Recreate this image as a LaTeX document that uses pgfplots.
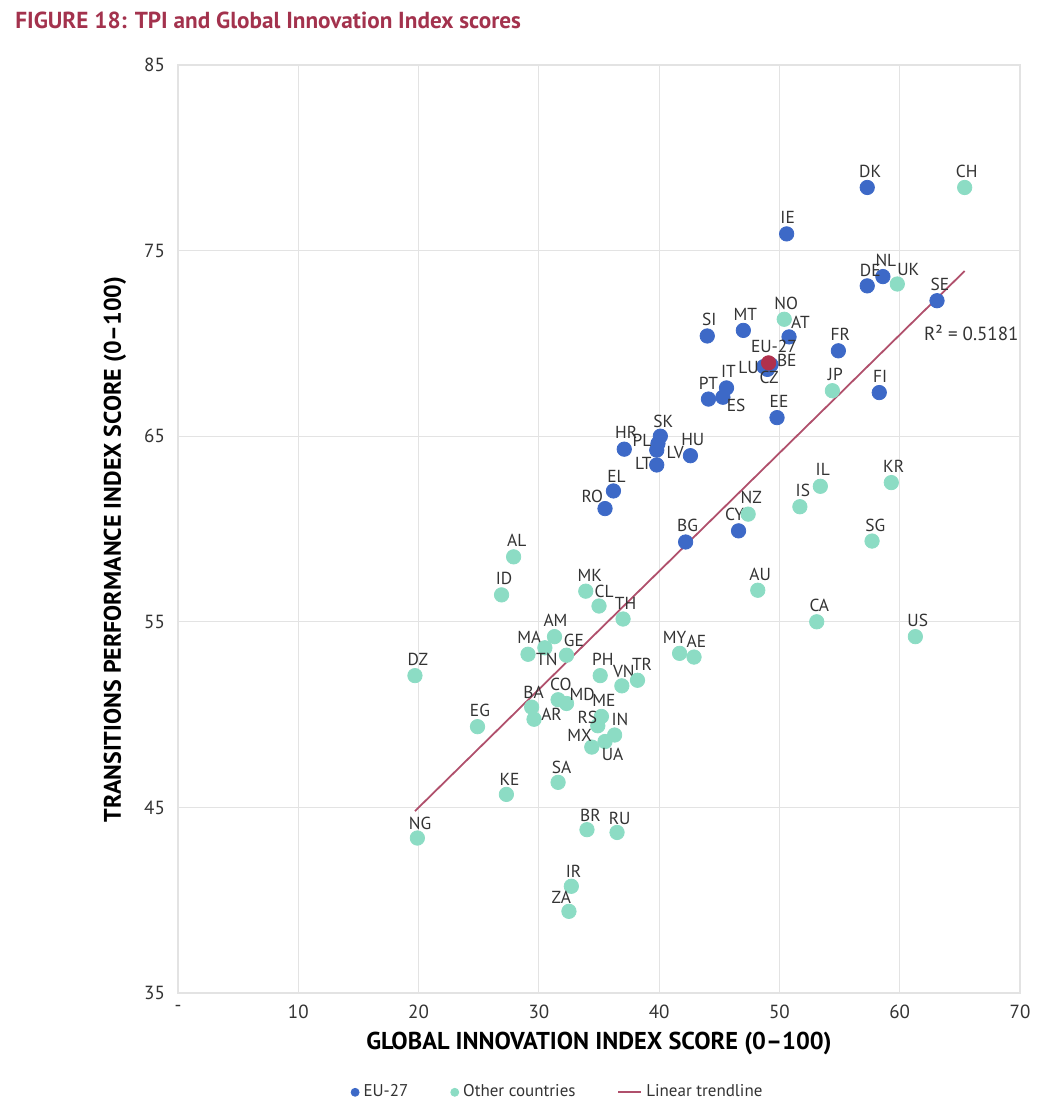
\documentclass[border=0pt]{standalone}
\usepackage{pgfplots}
\pgfplotsset{compat=1.18}
\usepackage{pgfplotstable}
\usepackage{fontspec}
\setmainfont{PT Sans}
\definecolor{euB}{HTML}{3D69C7}
\definecolor{othG}{HTML}{8CDCC4}
\definecolor{trendC}{HTML}{B0506C}
\definecolor{euR}{HTML}{B0304C}
\definecolor{titleC}{HTML}{A3324D}
\definecolor{txtC}{HTML}{333333}
\definecolor{gridC}{HTML}{E3E3E3}
% label placed relative to the point: alignment, x offset (pt), baseline offset (pt), text
\protected\def\Lab#1#2#3#4{\hbox to 0pt{\kern#2pt\makebox[0pt][#1]{\raisebox{#3pt}[0pt][0pt]{#4}}\hss}}

\pgfplotstableread{
x y lab
57.3 78.4 \Lab{c}{1.5}{5}{DK}
50.6 75.9 \Lab{c}{0.5}{5}{IE}
58.6 73.6 \Lab{c}{1.5}{5}{NL}
57.3 73.1 \Lab{c}{1.5}{4.5}{DE}
63.1 72.3 \Lab{c}{1.5}{5}{SE}
44.0 70.4 \Lab{c}{1}{5}{SI}
47.0 70.7 \Lab{c}{1}{5}{MT}
50.8 70.35 \Lab{l}{1}{4.3}{AT}
54.9 69.6 \Lab{c}{1}{5}{FR}
48.7 68.75 \Lab{r}{-2.5}{-3.5}{LU}
49.3 68.85 \Lab{l}{3}{-1}{BE}
49.0 68.6 \Lab{c}{0.8}{-7}{CZ}
45.6 67.6 \Lab{c}{1}{5}{IT}
44.1 67.0 \Lab{c}{0}{4.7}{PT}
45.3 67.1 \Lab{l}{2}{-7}{ES}
58.3 67.35 \Lab{c}{0.5}{5}{FI}
49.8 66.0 \Lab{c}{1}{5}{EE}
40.1 65.0 \Lab{c}{1.5}{4.5}{SK}
37.1 64.3 \Lab{c}{1}{5.5}{HR}
39.9 64.6 \Lab{r}{-3.3}{-1.3}{PL}
39.8 64.25 \Lab{l}{5}{-4}{LV}
39.8 63.45 \Lab{r}{-2.6}{-2.5}{LT}
42.6 63.95 \Lab{c}{1.2}{5.3}{HU}
36.2 62.05 \Lab{c}{1.5}{4.3}{EL}
35.5 61.1 \Lab{r}{-1}{3}{RO}
42.2 59.3 \Lab{c}{1}{5}{BG}
46.6 59.9 \Lab{c}{-2}{5.3}{CY}
}\eudata

\pgfplotstableread{
x y lab
65.4 78.4 \Lab{c}{1}{5}{CH}
59.8 73.2 \Lab{l}{0}{4.5}{UK}
50.4 71.3 \Lab{c}{1}{5}{NO}
54.4 67.45 \Lab{c}{1.5}{5}{JP}
53.4 62.3 \Lab{c}{1.2}{5.3}{IL}
59.3 62.5 \Lab{c}{1.2}{5}{KR}
51.7 61.2 \Lab{c}{1.5}{5}{IS}
47.4 60.8 \Lab{c}{1.5}{5.3}{NZ}
57.7 59.35 \Lab{c}{1.6}{5}{SG}
48.2 56.7 \Lab{c}{1.2}{5}{AU}
53.1 55.0 \Lab{c}{1.3}{5}{CA}
61.3 54.2 \Lab{c}{1.2}{5}{US}
33.9 56.65 \Lab{c}{2}{4.6}{MK}
35.0 55.85 \Lab{c}{2.6}{4.5}{CL}
37.0 55.15 \Lab{c}{1.3}{5}{TH}
41.7 53.3 \Lab{c}{-2.5}{5}{MY}
42.9 53.1 \Lab{c}{1.2}{4.8}{AE}
27.9 58.5 \Lab{c}{1.6}{5}{AL}
26.9 56.45 \Lab{c}{1.2}{5}{ID}
31.3 54.2 \Lab{c}{0.5}{5}{AM}
29.1 53.25 \Lab{c}{0.7}{5.5}{MA}
30.5 53.6 \Lab{c}{1}{-8.8}{TN}
32.3 53.2 \Lab{l}{-1.3}{4.2}{GE}
19.7 52.1 \Lab{c}{1.5}{5}{DZ}
35.1 52.1 \Lab{c}{1.3}{5}{PH}
36.9 51.55 \Lab{c}{1}{4.3}{VN}
38.2 51.85 \Lab{c}{2.3}{5}{TR}
31.6 50.8 \Lab{c}{1.3}{4.5}{CO}
32.3 50.6 \Lab{l}{1.6}{1.6}{MD}
29.4 50.4 \Lab{c}{1}{4.3}{BA}
29.6 49.75 \Lab{l}{3.6}{-0.8}{AR}
24.9 49.35 \Lab{c}{1.2}{5}{EG}
35.2 49.9 \Lab{c}{1.2}{4.8}{ME}
34.9 49.4 \Lab{r}{-0.3}{1}{RS}
36.3 48.9 \Lab{c}{2.7}{5}{IN}
35.5 48.55 \Lab{l}{-1.6}{-9.6}{UA}
34.4 48.25 \Lab{r}{0}{3}{MX}
31.6 46.35 \Lab{c}{1.8}{4.6}{SA}
27.3 45.7 \Lab{c}{1.6}{4.5}{KE}
19.9 43.35 \Lab{c}{1.3}{4.3}{NG}
34.0 43.8 \Lab{c}{1.7}{4}{BR}
36.5 43.65 \Lab{c}{1.3}{4}{RU}
32.7 40.75 \Lab{c}{1.1}{4.5}{IR}
32.5 39.4 \Lab{r}{1}{4}{ZA}
}\othdata

\begin{document}
\begin{tikzpicture}
\useasboundingbox (-89pt,-57pt) rectangle (436pt,496.5pt);
\begin{axis}[
  at={(0,0)}, anchor=south west,
  scale only axis, width=421pt, height=464pt,
  xmin=0, xmax=70, ymin=35, ymax=85,
  xtick={0,10,...,70}, xticklabels={-,10,20,30,40,50,60,70},
  ytick={35,45,...,85},
  grid=major, grid style={gridC, line width=0.6pt},
  axis line style={gridC, line width=0.6pt},
  major tick length=0pt,
  tick label style={font=\fontsize{9.5}{11}\selectfont, text=txtC},
  xticklabel style={yshift=-2.5pt},
  yticklabel style={xshift=-3pt},
  /pgf/number format/assume math mode=true,
  xlabel={GLOBAL INNOVATION INDEX SCORE (0–100)},
  ylabel={TRANSITIONS PERFORMANCE INDEX SCORE (0–100)},
  every axis x label/.style={at={(axis description cs:0.5,-0.0539)}, anchor=center, font=\bfseries\fontsize{12.2}{14}\selectfont, text=black},
  every axis y label/.style={at={(axis description cs:-0.0748,0.478)}, rotate=90, anchor=center, font=\bfseries\fontsize{12}{14}\selectfont, text=black},
  clip=false,
  legend columns=3,
  legend cell align=left,
  legend style={at={(0.452,-0.107)}, anchor=center, draw=none, fill=none,
    font=\fontsize{8.5}{10}\selectfont, text=txtC, inner sep=0pt,
    /tikz/every even column/.append style={column sep=19pt}},
  lbl/.style={only marks, mark=*, mark size=3.6pt,
    point meta=explicit symbolic,
    nodes near coords={\pgfplotspointmeta},
    every node near coord/.append style={anchor=center, inner sep=0pt,
      font=\fontsize{8.7}{10}\selectfont, text=txtC}},
]
\addlegendimage{legend image code/.code={\fill[euB] (0,0) circle (2pt);}}
\addlegendentry{EU-27}
\addlegendimage{legend image code/.code={\fill[othG] (0,0) circle (2pt);}}
\addlegendentry{Other countries}
\addlegendimage{legend image code/.code={\draw[trendC, line width=0.9pt] (0,0) -- (11.5pt,0);}}
\addlegendentry{Linear trendline}
\addplot[lbl, forget plot, mark options={fill=euB, draw=euB}]
  table[x=x, y=y, meta=lab] {\eudata};
\addplot[lbl, forget plot, mark options={fill=othG, draw=othG}]
  table[x=x, y=y, meta=lab] {\othdata};
\addplot[lbl, forget plot, mark options={fill=euR, draw=euR}]
  coordinates {(49.1,68.95) [\Lab{c}{2.7}{5}{EU-27}]};
\addplot[trendC, line width=0.9pt, no marks, forget plot]
  coordinates {(19.7,44.8) (65.4,73.9)};
\node[anchor=west, inner sep=0pt, font=\fontsize{9.5}{11}\selectfont, text=txtC] at (axis cs:62.0,70.55) {R² = 0.5181};
\end{axis}
\node[anchor=west, inner sep=0pt, font=\bfseries\fontsize{11.6}{13}\selectfont, text=titleC] at (-81.5pt,486.5pt) {FIGURE 18: TPI and Global Innovation Index scores};
\end{tikzpicture}
\end{document}
